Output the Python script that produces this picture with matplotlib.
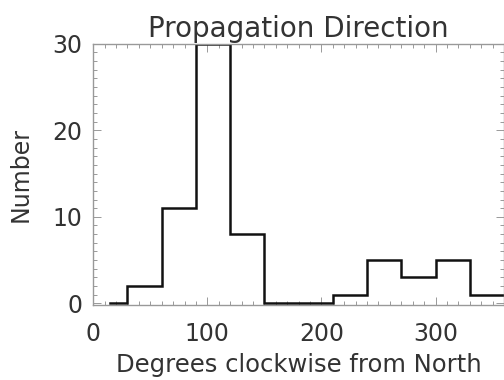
import numpy as np
import matplotlib
matplotlib.use("Agg")
import matplotlib.pyplot as plt
from matplotlib.ticker import MultipleLocator

# histogram of propagation direction, 30 degree bins
bin_edges = [0, 30, 60, 90, 120, 150, 180, 210, 240, 270, 300, 330, 360]
counts = [0, 2, 11, 30, 8, 0, 0, 1, 5, 3, 5, 1]
x_ticks = [0, 100, 200, 300]
y_ticks = [0, 10, 20, 30]

edges = np.array(bin_edges, dtype=float)
vals = np.array(counts, dtype=float)
xs = np.repeat(edges, 2)[1:-1]
ys = np.repeat(vals, 2)
xs[0] = (edges[0] + edges[1]) / 2  # IDL-style histogram starts at first bin centre

fig = plt.figure(figsize=(5.04, 3.8), dpi=100)
ax = fig.add_axes([0.185, 0.197, 0.815, 0.688])

ax.plot(xs, ys, color="#111111", lw=1.8, solid_joinstyle="miter")

ax.set_xlim(0, 360)
ax.set_ylim(-0.2, 30)
ax.set_xticks(x_ticks)
ax.set_yticks(y_ticks)
ax.xaxis.set_minor_locator(MultipleLocator(10))
ax.yaxis.set_minor_locator(MultipleLocator(1))

tc = "#999999"
txt = "#333333"
for s in ax.spines.values():
    s.set_color(tc)
    s.set_linewidth(1.0)
ax.tick_params(which="both", direction="in", top=True, right=True, color=tc, width=0.7)
ax.tick_params(which="major", length=6)
ax.tick_params(which="minor", length=3)
ax.tick_params(axis="x", which="major", pad=12, labelsize=17, labelcolor=txt)
ax.tick_params(axis="y", which="major", pad=8, labelsize=17, labelcolor=txt)

ax.set_title("Propagation Direction", fontsize=20, color=txt, pad=5)
ax.set_xlabel("Degrees clockwise from North", fontsize=17.5, color=txt, labelpad=5)
ax.set_ylabel("Number", fontsize=17, color=txt, labelpad=14)

fig.savefig("out.png", dpi=100)
